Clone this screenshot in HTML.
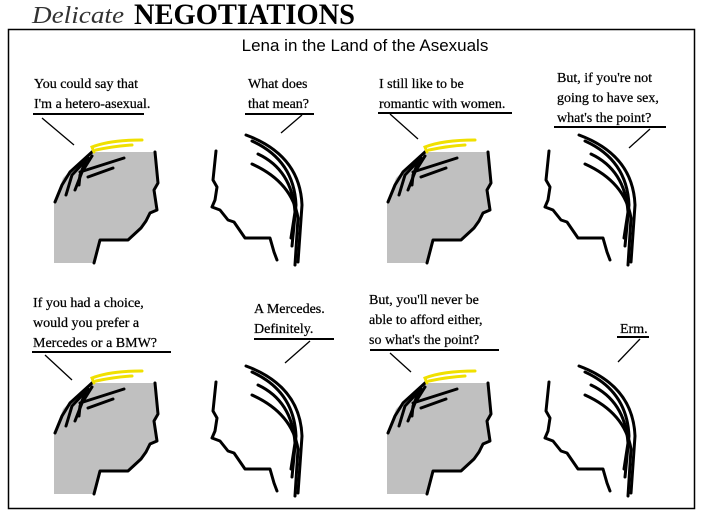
<!DOCTYPE html>
<html><head><meta charset="utf-8"><style>
html,body{margin:0;padding:0;background:#fff;width:703px;height:512px;overflow:hidden}
svg{display:block}
.t{font-family:"Liberation Serif",serif;font-size:14px;fill:#000;stroke:#000;stroke-width:0.25}
</style></head><body>
<svg width="703" height="512" viewBox="0 0 703 512" xmlns="http://www.w3.org/2000/svg">
<defs>
<g id="pair">
  <polygon points="54,203 63,178 90,152 155,152 157,183 155,190 157,208 150,213 146,222 141,228 128,240 100,240 95,263 54,263" fill="#c0c0c0"/>
  <g fill="none" stroke="#000" stroke-width="3" stroke-linecap="round" stroke-linejoin="round">
    <polyline points="155,152 158,183 154,190 157,210 150,213 146,221 141,228 128,240 100,240 94,263"/>
    <polyline points="92,152 70,172 62,185 55,202"/>
    <polyline points="88,158 72,175 66,195"/>
    <polyline points="92,156 82,172 75,190"/>
    <polyline points="86,160 80,175 79,185"/>
    <line x1="80" y1="172" x2="124" y2="158"/>
    <line x1="88" y1="177" x2="113" y2="168"/>
    <polyline points="216,151 213,180 217,187 215,200 212,207 220,210 228,220 234,222 245,238 270,238 274,252 277,260"/>
    <path d="M246,135 Q300,155 302,205 L298,262"/>
    <path d="M252,141 Q294,160 296,205 L292,246"/>
    <path d="M258,154 Q292,170 295,212 L291,238"/>
    <path d="M252,164 Q292,182 298,218 L295,265"/>
  </g>
  <g fill="none" stroke="#f0e000" stroke-width="3" stroke-linecap="round">
    <path d="M94,152 L92,147 Q110,140 142,140"/>
    <path d="M96,150 Q115,146 132,145"/>
  </g>
</g>
</defs>
<text x="32" y="23" font-family="Liberation Serif,serif" font-style="italic" font-size="24" fill="#333" textLength="92" lengthAdjust="spacingAndGlyphs">Delicate</text>
<text x="134" y="24" font-family="Liberation Serif,serif" font-weight="bold" font-size="30" fill="#000" textLength="221" lengthAdjust="spacingAndGlyphs">NEGOTIATIONS</text>
<rect x="8.5" y="29.5" width="686" height="479" fill="none" stroke="#000" stroke-width="1.5"/>
<text x="365" y="51" text-anchor="middle" font-family="Liberation Sans,sans-serif" font-size="17">Lena in the Land of the Asexuals</text>

<use href="#pair"/>
<use href="#pair" x="333"/>
<use href="#pair" y="231"/>
<use href="#pair" x="333" y="231"/>

<g>
<text x="34" y="88" class="t">You could say that</text>
<text x="34" y="108" class="t">I'm a hetero-asexual.</text>
<text x="248" y="88" class="t">What does</text>
<text x="248" y="108" class="t">that mean?</text>
<text x="379" y="88" class="t">I still like to be</text>
<text x="379" y="108" class="t">romantic with women.</text>
<text x="557" y="82" class="t">But, if you're not</text>
<text x="557" y="102" class="t">going to have sex,</text>
<text x="557" y="122" class="t">what's the point?</text>
<text x="33" y="307" class="t">If you had a choice,</text>
<text x="33" y="327" class="t">would you prefer a</text>
<text x="33" y="347" class="t">Mercedes or a BMW?</text>
<text x="254" y="313" class="t">A Mercedes.</text>
<text x="254" y="333" class="t">Definitely.</text>
<text x="369" y="304" class="t">But, you'll never be</text>
<text x="369" y="324" class="t">able to afford either,</text>
<text x="369" y="344" class="t">so what's the point?</text>
<text x="620" y="333" class="t">Erm.</text>
</g>
<g stroke="#000" fill="none">
<line x1="33" y1="114" x2="144" y2="114" stroke-width="2"/>
<line x1="42" y1="118" x2="74" y2="145" stroke-width="1.3"/>
<line x1="245" y1="114" x2="314" y2="114" stroke-width="2"/>
<line x1="302" y1="115" x2="281" y2="133" stroke-width="1.3"/>
<line x1="378" y1="113" x2="512" y2="113" stroke-width="2"/>
<line x1="390" y1="114" x2="418" y2="139" stroke-width="1.3"/>
<line x1="554" y1="127" x2="666" y2="127" stroke-width="2"/>
<line x1="650" y1="129" x2="629" y2="148" stroke-width="1.3"/>
<line x1="32" y1="352" x2="171" y2="352" stroke-width="2"/>
<line x1="45" y1="355" x2="72" y2="380" stroke-width="1.3"/>
<line x1="254" y1="339" x2="334" y2="339" stroke-width="2"/>
<line x1="310" y1="341" x2="285" y2="363" stroke-width="1.3"/>
<line x1="370" y1="350" x2="499" y2="350" stroke-width="2"/>
<line x1="390" y1="353" x2="411" y2="372" stroke-width="1.3"/>
<line x1="617" y1="337" x2="649" y2="337" stroke-width="2"/>
<line x1="640" y1="339" x2="618" y2="362" stroke-width="1.3"/>
</g>
</svg>
</body></html>
